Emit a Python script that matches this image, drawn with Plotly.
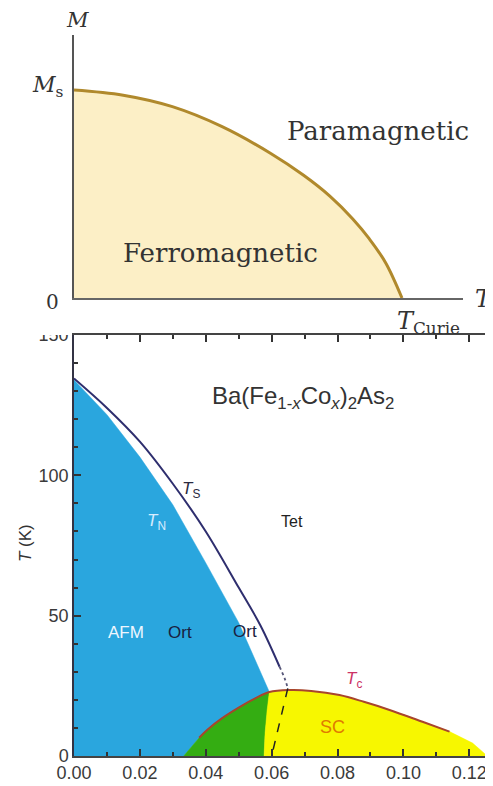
import plotly.graph_objects as go

# The page body has an 8 px margin, so the figure is sized to fill the rest of the window.
OFF = 8
W, H = 493 - OFF, 786 - OFF

# ---------------- top panel: M(T) of a ferromagnet ----------------
t_frac = [0, 0.15, 0.3, 0.45, 0.6, 0.7, 0.78, 0.85, 0.9, 0.95, 1.0]
m_frac = [1.0, 0.975, 0.92, 0.825, 0.695, 0.59, 0.49, 0.38, 0.285, 0.17, 0.0]

# ---------------- bottom panel: Ba(Fe1-xCox)2As2 phase diagram ----------------
x_TN = [0.0, 0.010, 0.020, 0.030, 0.040, 0.050, 0.0593]
T_TN = [134.0, 121.6, 106.5, 89.5, 68.8, 47.5, 22.8]

x_TS = [0.0, 0.010, 0.020, 0.030, 0.040, 0.050, 0.0566, 0.0624]
T_TS = [134.5, 124.0, 112.0, 97.0, 80.0, 60.0, 46.5, 31.8]
x_TS_dot = [0.0624, 0.0640, 0.0649]
T_TS_dot = [31.8, 27.5, 24.1]
x_TS_dash = [0.0649, 0.0625, 0.0600]
T_TS_dash = [24.1, 12.0, 0.0]

x_dome = [0.0333, 0.0380, 0.0404, 0.0450, 0.0505, 0.0550, 0.0593, 0.0655, 0.0720,
          0.0806, 0.0880, 0.0958, 0.1058, 0.1140, 0.1210, 0.1255]
T_dome = [0.0, 6.5, 9.3, 13.5, 17.6, 20.5, 22.8, 23.5, 23.2,
          21.7, 19.3, 16.4, 12.2, 8.7, 4.6, 0.0]
junction = 6          # index where dome meets T_N
tc_start, tc_end = 1, 13   # drawn part of Tc line

x_green_edge = [0.0593, 0.0586, 0.0580, 0.0577]
T_green_edge = [22.8, 16.0, 8.0, 0.0]

x_ticks = [0.00, 0.02, 0.04, 0.06, 0.08, 0.10, 0.12]
x_tick_labels = ["0.00", "0.02", "0.04", "0.06", "0.08", "0.10", "0.12"]
y_ticks = [0, 50, 100, 150]
y_tick_labels = ["0", "50", "100", "150"]

BLUE = "#2aa6de"
GREEN = "#34ad12"
YELLOW = "#f7f700"


def px(x):
    return (x - OFF) / W


def py(y):
    return 1 - (y - OFF) / H


fig = go.Figure()

# top panel
fig.add_trace(go.Scatter(x=t_frac, y=m_frac, mode="lines", xaxis="x", yaxis="y",
                         line=dict(color="#b0892c", width=3, shape="spline", smoothing=1.0),
                         fill="tozeroy", fillcolor="#fcefc6", hoverinfo="skip"))

# bottom panel regions
blue_x = [0.0] + x_TN + x_dome[:junction + 1][::-1]
blue_y = [0.0] + T_TN + T_dome[:junction + 1][::-1]
green_x = x_dome[:junction + 1] + x_green_edge
green_y = T_dome[:junction + 1] + T_green_edge
yellow_x = x_green_edge[::-1] + x_dome[junction:]
yellow_y = T_green_edge[::-1] + T_dome[junction:]

for xs, ys, c in [(blue_x, blue_y, BLUE), (green_x, green_y, GREEN), (yellow_x, yellow_y, YELLOW)]:
    fig.add_trace(go.Scatter(x=xs, y=ys, mode="lines", fill="toself", fillcolor=c,
                             line=dict(color=c, width=0.5), xaxis="x2", yaxis="y2",
                             hoverinfo="skip"))

fig.add_trace(go.Scatter(x=x_dome[tc_start:tc_end + 1], y=T_dome[tc_start:tc_end + 1],
                         mode="lines", line=dict(color="#a8452c", width=2, shape="spline"),
                         xaxis="x2", yaxis="y2", hoverinfo="skip"))
fig.add_trace(go.Scatter(x=x_TS, y=T_TS, mode="lines",
                         line=dict(color="#2e2e6e", width=2, shape="spline"),
                         xaxis="x2", yaxis="y2", hoverinfo="skip"))
fig.add_trace(go.Scatter(x=x_TS_dot, y=T_TS_dot, mode="lines",
                         line=dict(color="#555577", width=1.8, dash="dot", shape="spline"),
                         xaxis="x2", yaxis="y2", hoverinfo="skip"))
fig.add_trace(go.Scatter(x=x_TS_dash, y=T_TS_dash, mode="lines",
                         line=dict(color="#222222", width=1.5, dash="dash"),
                         xaxis="x2", yaxis="y2", hoverinfo="skip"))

SERIF = "DejaVu Serif"
SANS = "Liberation Sans, Arial"
ann = []


def add(x, y, text, size, color="#333333", family=SANS, xanchor="center", **kw):
    ann.append(dict(x=px(x), y=py(y), xref="paper", yref="paper", text=text,
                    xanchor=xanchor, yanchor="middle",
                    showarrow=False, font=dict(size=size, color=color, family=family), **kw))


# top labels
add(77, 20, "<i>M</i>", 21, family=SERIF)
add(66, 86, "<i>M</i><sub>s</sub>", 22, family=SERIF, xanchor="right")
add(52, 302, "0", 20, family=SERIF)
add(484, 299, "<i>T</i>", 24, family=SERIF)
add(428, 322, "<i>T</i><sub>Curie</sub>", 24, family=SERIF)
add(378, 131, "Paramagnetic", 26, family=SERIF)
add(220, 253, "Ferromagnetic", 26, family=SERIF)

# bottom labels
add(303, 397, "Ba(Fe<sub>1-<i>x</i></sub>Co<sub><i>x</i></sub>)<sub>2</sub>As<sub>2</sub>", 24)
add(191, 490, "<i>T</i><sub>S</sub>", 17, color="#2a2a40")
add(156, 522, "<i>T</i><sub>N</sub>", 17, color="#d8ecff")
add(292, 521, "Tet", 16, color="#222222")
add(126, 632, "AFM", 17, color="#eef6ff")
add(180, 632, "Ort", 17, color="#1a2040")
add(245, 631, "Ort", 17, color="#1a2040")
add(354, 680, "<i>T</i><sub>c</sub>", 17, color="#cc3366")
add(332, 727, "SC", 18, color="#e07b00")
add(25, 543, "<i>T</i> (K)", 17, textangle=-90)

axis_common = dict(showgrid=False, zeroline=False, automargin=False)

fig.update_layout(
    template="none",
    width=W, height=H, autosize=False,
    margin=dict(l=0, r=0, t=0, b=0, pad=0),
    paper_bgcolor="white", plot_bgcolor="rgba(0,0,0,0)",
    showlegend=False,
    xaxis=dict(domain=[px(74), px(463)], range=[0, (463 - 74) / 328], anchor="y",
               showline=True, linecolor="#666666", linewidth=1.5, showticklabels=False,
               ticks="", **axis_common),
    yaxis=dict(domain=[py(298), py(35)], range=[0, (298 - 35) / 208], anchor="x",
               showline=True, linecolor="#555555", linewidth=2, showticklabels=False,
               ticks="", **axis_common),
    xaxis2=dict(domain=[px(74), 1.0], range=[0, 0.1272], anchor="y2",
                showline=True, linecolor="#444444", linewidth=1.5, mirror="ticks",
                ticks="inside", ticklen=7, tickwidth=1.5, tickcolor="#333333",
                tickvals=x_ticks, ticktext=x_tick_labels,
                minor=dict(ticks="inside", ticklen=4, dtick=0.01, tick0=0, tickcolor="#333333"),
                tickfont=dict(size=18, color="#3a3a3a", family=SANS), **axis_common),
    yaxis2=dict(domain=[py(756), py(335)], range=[0, 150], anchor="x2",
                showline=True, linecolor="#333344", linewidth=1.5, mirror="ticks",
                ticks="inside", ticklen=7, tickwidth=1.5, tickcolor="#333333",
                tickvals=y_ticks, ticktext=y_tick_labels,
                minor=dict(ticks="inside", ticklen=4, dtick=10, tick0=0, tickcolor="#333333"),
                tickfont=dict(size=18, color="#3a3a3a", family=SANS), **axis_common),
    annotations=ann,
    shapes=[dict(type="rect", xref="paper", yref="paper", x0=0, x1=px(72),
                 y0=py(335), y1=1.0, fillcolor="white", line=dict(width=0), layer="above")],
)

fig.write_html("out.html")
